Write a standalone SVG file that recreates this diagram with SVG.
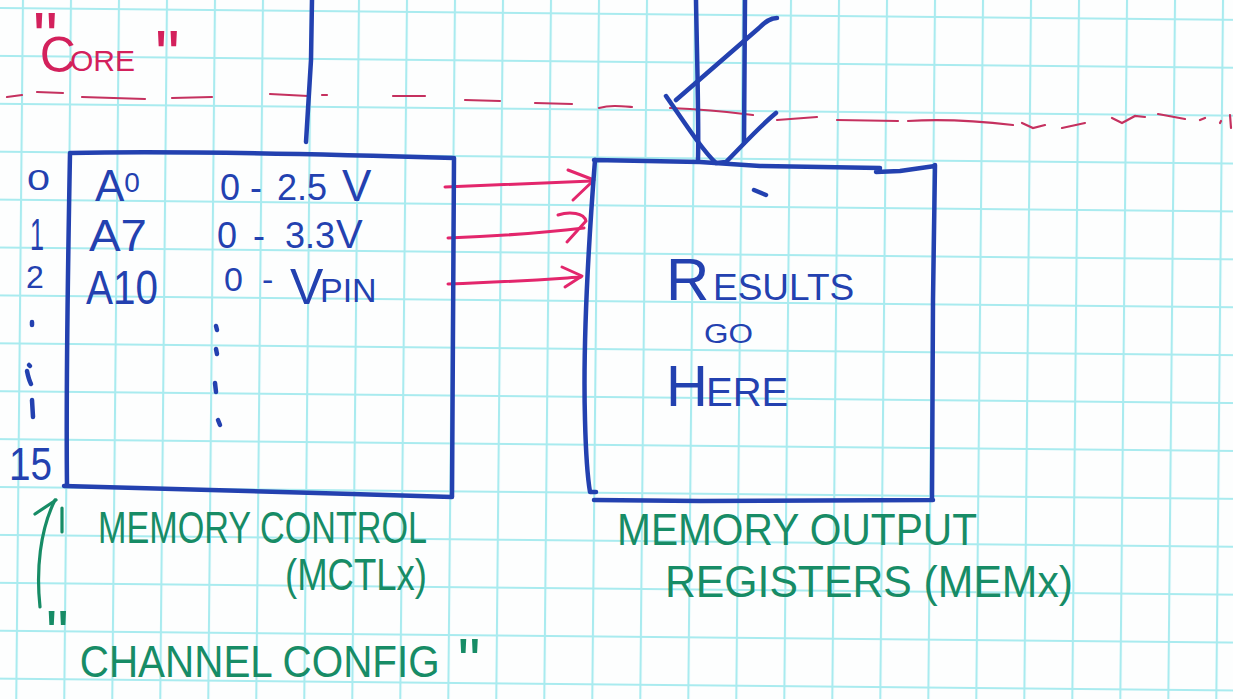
<svg xmlns="http://www.w3.org/2000/svg" width="1233" height="699" viewBox="0 0 1233 699">
  <defs>
    <pattern id="gridpat" patternUnits="userSpaceOnUse" x="21" y="11.8" width="48" height="47.9">
      <path d="M1 0V47.9M0 1H48" stroke="#a9ebef" stroke-width="2.2" fill="none"/>
    </pattern>
  </defs>
  <style>
    .ink { fill: none; stroke: #2341b0; stroke-width: 4.5; stroke-linecap: round; stroke-linejoin: round; }
    .pinkline { fill: none; stroke: #e3266c; stroke-width: 3; stroke-linecap: round; stroke-linejoin: round; }
    .dash { fill: none; stroke: #c5315f; stroke-width: 2.2; stroke-linecap: round; }
    .greenline { fill: none; stroke: #178c66; stroke-width: 3.2; stroke-linecap: round; stroke-linejoin: round; }
    .bt { fill: #2341b0; font-family: "Liberation Sans", Arial, sans-serif; }
    .gt { fill: #178c66; font-family: "Liberation Sans", Arial, sans-serif; }
    .pt { fill: #d3215c; font-family: "Liberation Sans", Arial, sans-serif; }
  </style>

  <rect width="1233" height="699" fill="#fdfefe"/>
  <g id="grid" transform="rotate(0.55 500 100)">
    <rect x="-60" y="-60" width="1360" height="830" fill="url(#gridpat)"/>
  </g>

  <g id="core-boundary">
    <path class="dash" d="M7 97L22 95M37 92L63 93M82 97L145 99M172 98L212 97M270 94L308 96M322 95L327 95M393 96L425 96M465 100L500 101M535 103L572 104M599 108C610 105 620 106 632 107M670 108C700 109 730 112 753 115M777 120L817 117M837 120L898 121M908 121C940 119 970 120 1013 125M1022 123L1033 128L1045 125M1062 128L1085 123M1112 118L1122 123L1135 116L1145 117M1158 114L1185 119M1200 120L1205 118M1220 123L1221 121M1230 115L1231 128"/>
    <text class="pt" font-size="70" x="33" y="62">"<tspan dx="-18" dy="10" font-size="50">C</tspan><tspan dx="-6" dy="-1" font-size="30">ORE</tspan><tspan dx="20" dy="9">"</tspan></text>
  </g>

  <g id="connectors">
    <path class="ink" d="M312 0L311 60L306 142"/>
    <g id="bus-in">
      <path class="ink" d="M696 0C697 60 699 120 698 160"/>
      <path class="ink" d="M745 0L744 143"/>
      <path class="ink" d="M777 18C770 18 765 22 759 28L676 100"/>
      <path class="ink" d="M666 96C688 128 704 152 716 163L726 162C742 146 760 126 776 113"/>
    </g>
    <g id="arrow-0">
      <path class="pinkline" d="M445 187C500 185 550 183 592 181"/>
      <path class="pinkline" d="M568 170L594 180L573 200"/>
    </g>
    <g id="arrow-1">
      <path class="pinkline" d="M448 238C500 236 550 232 584 228"/>
      <path class="pinkline" d="M558 215C570 211 584 213 586 221L567 242"/>
    </g>
    <g id="arrow-2">
      <path class="pinkline" d="M448 284C510 282 550 279 581 277"/>
      <path class="pinkline" d="M562 267L582 276L565 287"/>
    </g>
    <g id="note-arrow">
      <path class="greenline" d="M40 607C36 570 40 530 55 500"/>
      <path class="greenline" d="M35 514L56 500M62 508L62 532"/>
    </g>
  </g>

  <g id="memory-control">
    <path class="ink" d="M70 153C160 151 320 154 454 158L452 497C320 493 180 489 64 486M70 153C68 260 66 400 67 486"/>
    <text class="bt" font-size="29" x="27" y="190" textLength="23" lengthAdjust="spacingAndGlyphs">0</text>
    <text class="bt" font-size="44" x="30" y="250" textLength="14" lengthAdjust="spacingAndGlyphs">1</text>
    <text class="bt" font-size="32" x="26" y="288">2</text>
    <text class="bt" font-size="46" x="9" y="480" textLength="43" lengthAdjust="spacingAndGlyphs">15</text>
    <path class="ink" stroke-width="3.5" d="M32 322L32 325M29 365L30 366M27 371C28 376 29 380 31 384M32 400L33 417"/>
    <text class="bt" font-size="44" x="95" y="201">A<tspan font-size="28" dy="-9">0</tspan></text>
    <text class="bt" font-size="44" x="89" y="251" textLength="58" lengthAdjust="spacingAndGlyphs">A7</text>
    <text class="bt" font-size="48" x="86" y="304" textLength="72" lengthAdjust="spacingAndGlyphs">A10</text>
    <text class="bt" font-size="36" y="200"><tspan x="220">0</tspan><tspan x="250">-</tspan><tspan x="277">2.5</tspan><tspan x="342" y="201" font-size="44">V</tspan></text>
    <text class="bt" font-size="36" y="248"><tspan x="217">0</tspan><tspan x="253">-</tspan><tspan x="285">3.3</tspan><tspan x="336" y="248" font-size="40">V</tspan></text>
    <text class="bt" font-size="34" y="291"><tspan x="224">0</tspan><tspan x="262">-</tspan><tspan x="290" y="304" font-size="50">V</tspan><tspan x="320" y="302">PIN</tspan></text>
    <path class="ink" stroke-width="3.5" d="M216 326L217 330M216 349L217 354M215 383L216 392M218 420L220 425"/>
  </g>

  <g id="memory-output">
    <path class="ink" d="M594 160L700 162L760 166L880 168M876 172L900 171L935 166M935 165L933 300L932 498M595 160C588 250 583 350 585 420C586 460 588 480 590 492L596 492M594 500L700 501L933 500"/>
    <path class="ink" stroke-width="2" d="M754 190L766 195"/>
    <text class="bt" y="300"><tspan x="666" font-size="60">R</tspan><tspan x="713" font-size="37">ESULTS</tspan></text>
    <text class="bt" font-size="27" x="704" y="343" textLength="49" lengthAdjust="spacingAndGlyphs">GO</text>
    <text class="bt" y="406"><tspan x="666" font-size="58">H</tspan><tspan x="706" font-size="40">ERE</tspan></text>
  </g>

  <g id="memory-control-label">
    <text class="gt" font-size="44" x="98" y="543" textLength="329" lengthAdjust="spacingAndGlyphs">MEMORY CONTROL</text>
    <text class="gt" font-size="44" x="285" y="590" textLength="142" lengthAdjust="spacingAndGlyphs">(MCTLx)</text>
    <text class="gt" font-size="64" x="46" y="656">"<tspan dx="11" dy="21" font-size="44" textLength="360" lengthAdjust="spacingAndGlyphs">CHANNEL CONFIG</tspan><tspan dx="18" dy="7">"</tspan></text>
  </g>

  <g id="memory-output-label">
    <text class="gt" font-size="44" x="617" y="545" textLength="360" lengthAdjust="spacingAndGlyphs">MEMORY OUTPUT</text>
    <text class="gt" font-size="44" x="665" y="597" textLength="408" lengthAdjust="spacingAndGlyphs">REGISTERS (MEMx)</text>
  </g>
</svg>
